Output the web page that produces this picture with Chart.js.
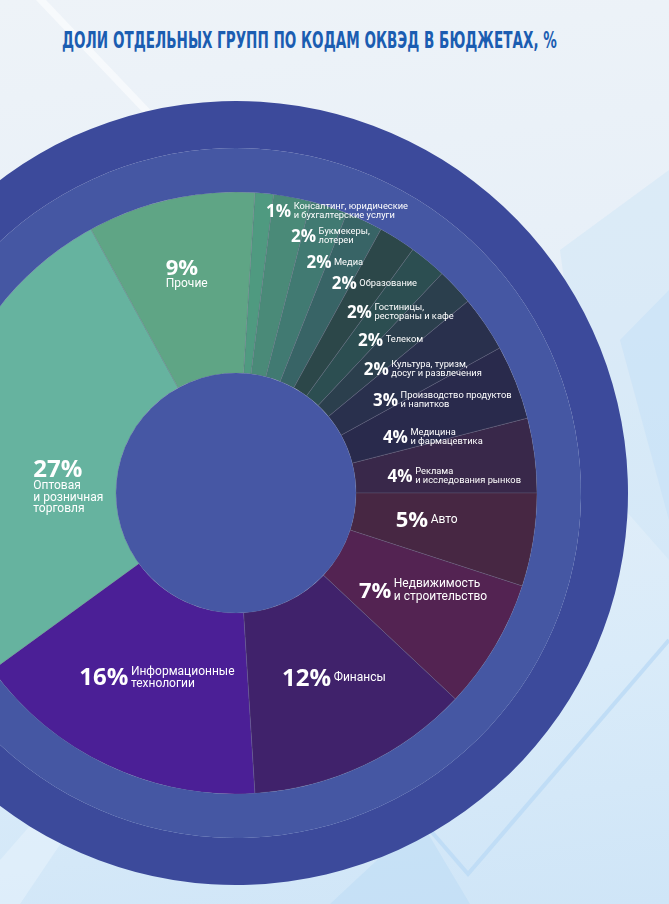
<!DOCTYPE html>
<html lang="ru">
<head>
<meta charset="utf-8">
<title>Доли отдельных групп по кодам ОКВЭД</title>
<script src="https://cdn.jsdelivr.net/npm/chart.js@4.4.0/dist/chart.umd.min.js"></script>
<style>
html, body { margin: 0; padding: 0; width: 669px; height: 904px; overflow: hidden; }
body {
  position: relative;
  background: linear-gradient(172deg, #eef3f8 0%, #e6eff8 40%, #d9ebf9 75%, #cfe5f7 100%);
  font-family: Roboto, sans-serif;
}
#deco { position: absolute; left: 0; top: 0; }
#title {
  position: absolute; left: 62px; top: 29px;
  font: bold 23px "Liberation Sans Narrow", "DejaVu Sans Condensed", sans-serif;
  line-height: 23px; color: #1b5db1; white-space: nowrap; transform-origin: 0 0;
}
#wrap { position: absolute; left: -156px; top: 101px; width: 784px; height: 784px; }
</style>
</head>
<body>
<svg id="deco" width="669" height="904">
  <polygon points="36,0 46,0 160,120 150,120" fill="rgba(255,255,255,0.55)"/>
  <polygon points="560,250 669,170 669,560 590,470" fill="rgba(205,228,247,0.45)"/>
  <polygon points="620,340 669,290 669,520" fill="rgba(196,224,248,0.5)"/>
  <polyline points="430,830 468,874 669,640" fill="none" stroke="rgba(190,220,245,0.9)" stroke-width="4"/>
  <polygon points="0,860 70,780 90,800 20,904 0,904" fill="rgba(230,242,252,0.6)"/>
  <polygon points="330,904 420,820 470,904" fill="rgba(185,218,245,0.45)"/>
</svg>
<div id="title">ДОЛИ ОТДЕЛЬНЫХ ГРУПП ПО КОДАМ ОКВЭД В БЮДЖЕТАХ, %</div>
<div id="wrap"><canvas id="myChart" width="784" height="784"></canvas></div>
<script>
// данные (по часовой стрелке от верха)
const categories = [
  'Консалтинг, юридические\nи бухгалтерские услуги',
  'Букмекеры,\nлотереи',
  'Медиа',
  'Образование',
  'Гостиницы,\nрестораны и кафе',
  'Телеком',
  'Культура, туризм,\nдосуг и развлечения',
  'Производство продуктов\nи напитков',
  'Медицина\nи фармацевтика',
  'Реклама\nи исследования рынков',
  'Авто',
  'Недвижимость\nи строительство',
  'Финансы',
  'Информационные\nтехнологии',
  'Оптовая\nи розничная\nторговля',
  'Прочие'
];
const shares = [1, 2, 2, 2, 2, 2, 2, 3, 4, 4, 5, 7, 12, 16, 27, 9];

const sliceColors = [
  '#4f9a80', '#4a8a78', '#417a72', '#386466', '#2c4749', '#2c4e51',
  '#2b3f4d', '#29304d', '#292a4c', '#39284a', '#472743', '#532352',
  '#40226b', '#4b1f96', '#66b39f', '#5fa585'
];

// подписи: расстояние от центра, сдвиг угла в градусах, вид
const labelRadius = [285, 266, 245, 236, 219, 204, 187, 176, 169, 165, 178, 170, 198, 227, 204, 235];
const labelShift = [3.2, 3.9, 1.8, 2.1, 1.9, 1.7, 1.8, 2.4, 2.2, 1.3, -0.3, 4.5, 4.3, 10.4, -6.1, -4.8];
const labelKind = ['s', 's', 's', 's', 's', 's', 's', 's', 's', 's', 'm', 'm', 'l', 'l', 'stack', 'stack'];

const title = document.getElementById('title');
title.style.transform = 'scaleX(' + (495 / title.offsetWidth) + ')';

const holeAndLabels = {
  id: 'holeAndLabels',
  afterDatasetsDraw(chart) {
    const ctx = chart.ctx;
    const meta = chart.getDatasetMeta(2);
    const first = meta.data[0];
    ctx.save();
    ctx.fillStyle = '#4657a4';
    ctx.beginPath();
    ctx.arc(first.x, first.y, first.innerRadius, 0, Math.PI * 2);
    ctx.fill();

    ctx.fillStyle = '#ffffff';
    ctx.textBaseline = 'middle';
    ctx.textAlign = 'left';
    meta.data.forEach((arc, i) => {
      const p = arc.getProps(['x', 'y', 'startAngle', 'endAngle']);
      const a = (p.startAngle + p.endAngle) / 2 + labelShift[i] * Math.PI / 180;
      const px = p.x + labelRadius[i] * Math.cos(a);
      const py = p.y + labelRadius[i] * Math.sin(a);
      const pct = shares[i] + '%';
      const lines = categories[i].split('\n');
      const kind = labelKind[i];

      if (kind === 'stack') {
        const big = i === 14 ? 24 : 22;
        ctx.font = 'bold ' + big + 'px "Open Sans"';
        ctx.fillText(pct, px, py);
        ctx.font = '12px Roboto';
        lines.forEach((t, k) => ctx.fillText(t, px, py + (i === 14 ? 16.5 : 15) + k * 11.5));
        return;
      }
      let pSize, tSize, lh;
      if (kind === 's') { pSize = 17; tSize = 9.3; lh = 9; }
      else if (kind === 'm') { pSize = 22; tSize = 12; lh = 13; }
      else { pSize = 24; tSize = 12; lh = 12; }
      ctx.font = 'bold ' + pSize + 'px "Open Sans"';
      const w = ctx.measureText(pct).width;
      ctx.fillText(pct, px - w / 2, py + 1);
      ctx.font = tSize + 'px Roboto';
      const y0 = py - (lines.length - 1) * lh / 2;
      lines.forEach((t, k) => ctx.fillText(t, px + w / 2 + 2.5, y0 + k * lh));
    });
    ctx.restore();
  }
};

const graphique = new Chart(document.getElementById('myChart').getContext('2d'), {
  type: 'doughnut',
  data: {
    labels: categories,
    datasets: [
      { data: [100], backgroundColor: '#3c4a9b', borderWidth: 0, weight: 47 },
      { data: [100], backgroundColor: '#4557a3', borderWidth: 0, weight: 44 },
      {
        data: shares,
        backgroundColor: sliceColors,
        borderWidth: 0.6,
        borderColor: 'rgba(105,105,130,0.55)',
        weight: 181
      }
    ]
  },
  options: {
    responsive: false,
    animation: false,
    events: [],
    cutout: 120,
    rotation: 3.6,
    plugins: { legend: { display: false }, tooltip: { enabled: false } }
  },
  plugins: [holeAndLabels]
});
</script>
</body>
</html>
